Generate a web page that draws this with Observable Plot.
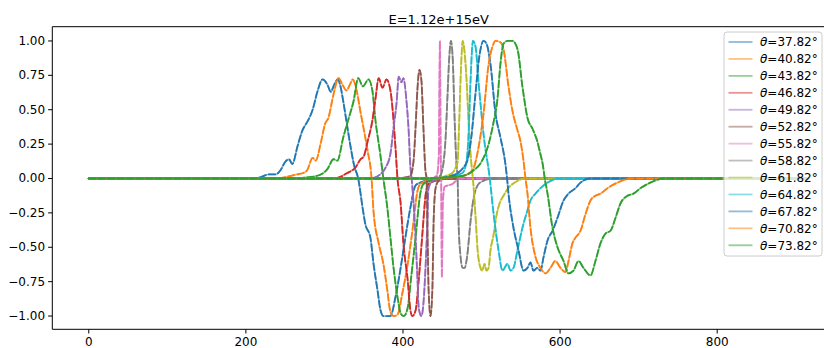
<!DOCTYPE html>
<html><head><meta charset="utf-8">
<script src="https://cdn.jsdelivr.net/npm/d3@7"></script>
<script src="https://cdn.jsdelivr.net/npm/@observablehq/plot@0.6"></script>
<style>body{margin:0;background:#fff;} svg{display:block}</style>
</head><body><div id="chart"></div>
<script>
const title = "E=1.12e+15eV";
const angles = [37.82, 40.82, 43.82, 46.82, 49.82, 52.82, 55.82, 58.82, 61.82, 64.82, 67.82, 70.82, 73.82];
const xTicks = [0, 200, 400, 600, 800];
const yTicks = [-1, -0.75, -0.5, -0.25, 0, 0.25, 0.5, 0.75, 1];
const palette = ["#1f77b4","#ff7f0e","#2ca02c","#d62728","#9467bd","#8c564b","#e377c2","#7f7f7f","#bcbd22","#17becf","#1f77b4","#ff7f0e","#2ca02c"];

const s1 = [[0,0],[206,0],[219,0.01],[229,0.03],[238,0.03],[244,0.06],[250,0.12],[255,0.14],[259,0.105],[266,0.24],[272,0.35],[279,0.42],[285,0.50],[291,0.63],[297.5,0.72],[304,0.68],[308,0.63],[313,0.69],[317,0.72],[320,0.68],[324,0.56],[329,0.38],[333,0.24],[338,0.09],[343,0],[348.5,-0.21],[352,-0.33],[358.5,-0.43],[362.5,-0.62],[367.5,-0.81],[371.5,-0.96],[375,-1.0],[384,-1.0],[390.5,-0.86],[397,-0.65],[403,-0.43],[409.5,-0.21],[416,-0.05],[422,-0.03],[435,-0.01],[450,0],[916,0]];
const s2 = [[0,0],[240,0],[250,0.01],[265,0.03],[273,0.04],[278,0.06],[285,0.15],[289,0.13],[295,0.25],[301,0.40],[305,0.44],[311.5,0.61],[318,0.73],[324,0.67],[328,0.64],[333,0.69],[336,0.72],[341,0.64],[346,0.48],[350,0.36],[355,0.2],[360,0],[362.5,-0.24],[369,-0.47],[375,-0.62],[380,-0.81],[384,-0.97],[388,-1.0],[393,-0.99],[399,-0.84],[406,-0.62],[412,-0.38],[418.5,-0.09],[422,-0.04],[435,-0.01],[450,0],[916,0]];
const s3 = [[0,0],[260,0],[280,0.01],[291,0.02],[304,0.07],[311.5,0.14],[316.5,0.13],[324,0.30],[331,0.44],[337,0.56],[343,0.73],[349,0.67],[356,0.72],[361,0.64],[365,0.42],[371,0.18],[375,0],[380,-0.21],[384,-0.43],[388,-0.65],[393,-0.86],[397,-0.98],[401,-1.0],[406,-0.94],[410,-0.74],[416,-0.43],[422,-0.11],[426,-0.04],[440,-0.01],[455,0],[916,0]];
const s4 = [[0,0],[300,0],[316.5,0.005],[329,0.04],[339.5,0.08],[346,0.14],[350,0.16],[355,0.27],[361,0.42],[365,0.58],[369,0.73],[374,0.66],[379,0.72],[384,0.64],[388,0.42],[390.5,0.22],[393,0],[397,-0.18],[400.5,-0.47],[406,-0.74],[409.5,-0.96],[412,-1.0],[416,-0.96],[420,-0.74],[425,-0.38],[429,-0.11],[432.5,-0.04],[445,-0.01],[460,0],[916,0]];
const s5 = [[0,0],[340,0],[362.5,0.005],[371,0.03],[378,0.08],[384,0.18],[388,0.37],[392,0.56],[394.5,0.74],[398,0.70],[400.5,0.73],[404.5,0.56],[407,0.37],[409.5,0.08],[411,0],[416,-0.43],[418.5,-0.74],[420,-0.94],[423.5,-1.0],[426,-0.91],[428.5,-0.67],[431,-0.33],[432.5,-0.07],[437.5,-0.02],[450,0],[916,0]];
const s6 = [[0,0],[390,0],[405,0.01],[409.5,0.02],[413.5,0.13],[416,0.37],[418.5,0.66],[421,0.79],[423.5,0.71],[426,0.37],[428.5,0.06],[430,0],[431,-0.31],[432.5,-0.79],[435,-1.0],[437.5,-0.79],[439,-0.31],[441.5,-0.07],[445,-0.02],[455,0],[916,0]];
const s7 = [[0,0],[436,0],[443,0.02],[445.5,0.15],[447,1.0],[448,0.2],[448.6,0],[449.5,-0.72],[450.7,-0.18],[453,-0.06],[463,-0.04],[472,0],[916,0]];
const s8 = [[0,0],[430,0],[445,0.01],[449,0.04],[451.5,0.11],[454,0.27],[456.5,0.58],[459,0.89],[461,1.0],[463.5,0.85],[465.5,0.47],[468,0.11],[469.5,0],[470.7,-0.31],[473,-0.55],[476,-0.65],[478.5,-0.65],[482,-0.55],[486,-0.31],[490,-0.14],[495,-0.05],[501,-0.02],[515,0],[916,0]];
const s9 = [[0,0],[440,0],[455,0.02],[463,0.04],[467,0.08],[469.5,0.12],[471.5,0.4],[473.5,0.75],[476,1.0],[478,0.94],[481,0.71],[484,0.35],[487.5,0.08],[489,0],[492.3,-0.27],[495,-0.52],[498.7,-0.65],[501,-0.67],[503.8,-0.62],[506.3,-0.67],[509,-0.65],[511.4,-0.52],[515,-0.42],[519,-0.27],[523,-0.18],[528,-0.125],[534,-0.07],[542,-0.03],[556,0],[916,0]];
const s10 = [[0,0],[440,0],[462,0.02],[475.8,0.04],[481,0.13],[483.4,0.31],[486,0.71],[489,1.0],[492.3,0.96],[496.5,0.68],[503,0.3],[510.5,0],[515,-0.24],[521.6,-0.52],[526.7,-0.67],[533,-0.62],[537,-0.67],[540.7,-0.65],[545.8,-0.52],[552,-0.36],[558.5,-0.23],[562.3,-0.16],[568.7,-0.11],[575,-0.07],[584,-0.03],[597,0],[916,0]];
const s11 = [[0,0],[440,0],[457,0.01],[467,0.03],[477,0.08],[482,0.13],[487,0.3],[492,0.6],[497,0.88],[502.5,1.0],[506.3,0.98],[511.4,0.83],[517.8,0.47],[524,0.3],[530.5,0.1],[532.5,0],[534.3,-0.11],[540.7,-0.36],[547,-0.52],[553.4,-0.67],[558.5,-0.65],[562.3,-0.61],[566,-0.67],[571,-0.65],[575,-0.67],[579,-0.57],[584,-0.45],[590.4,-0.38],[596.7,-0.285],[604.4,-0.16],[610.7,-0.11],[619.6,-0.07],[626,-0.03],[638.7,0],[916,0]];
const s12 = [[0,0],[440,0],[465,0.01],[477,0.02],[488.5,0.06],[496,0.22],[502.5,0.47],[509,0.83],[514,0.96],[517.8,1.0],[524,0.99],[528,0.94],[534.3,0.67],[539.4,0.49],[545.8,0.35],[549.6,0.27],[553.4,0.13],[556,0],[558.5,-0.11],[562.3,-0.36],[568.7,-0.57],[575,-0.65],[581.4,-0.69],[587.8,-0.65],[594,-0.6],[600.5,-0.65],[607,-0.68],[610.7,-0.6],[615.8,-0.47],[619.6,-0.43],[626,-0.38],[632.3,-0.26],[638.7,-0.16],[645,-0.125],[651.5,-0.11],[660.4,-0.07],[673,-0.03],[690,0],[916,0]];
const s13 = [[0,0],[430,0],[460,0.01],[477,0.02],[490,0.06],[498.7,0.11],[509,0.25],[515,0.4],[520.3,0.58],[524,0.83],[528,0.98],[533,1.0],[539.4,1.0],[545.8,0.94],[552,0.67],[558.5,0.44],[565,0.36],[571,0.27],[574,0.2],[578,0.1],[580.5,0],[584,-0.11],[590.4,-0.36],[596.7,-0.5],[604.4,-0.6],[610.7,-0.69],[617,-0.67],[623.4,-0.6],[629.8,-0.65],[638.7,-0.705],[645,-0.6],[651.5,-0.47],[657.8,-0.4],[664.2,-0.38],[670.6,-0.285],[677,-0.18],[685.8,-0.125],[693.5,-0.11],[702.4,-0.07],[715,-0.03],[731.7,0],[916,0]];

const seriesValues = [s1,s2,s3,s4,s5,s6,s7,s8,s9,s10,s11,s12,s13];
const rows = seriesValues.map((pts, i) => pts.map(([x, y]) => ({x, y, angle: angles[i]})));

const lineMarks = [];
rows.forEach((r, i) => {
  lineMarks.push(Plot.line(r, {x: "x", y: "y", stroke: palette[i], strokeOpacity: 0.5, strokeWidth: 1.8, curve: "monotone-x"}));
  lineMarks.push(Plot.line(r, {x: "x", y: "y", stroke: palette[i], strokeWidth: 1.8, strokeDasharray: "6.6,2.9", curve: "monotone-x"}));
});

const plot = Plot.plot({
  width: 824, height: 348,
  marginLeft: 52.3, marginRight: 0, marginTop: 26.7, marginBottom: 18.7,
  style: {fontFamily: "DejaVu Sans", fontSize: "12px", background: "#fff", color: "#000"},
  x: {domain: [-45.8, 936.6]},
  y: {domain: [-1.1, 1.1]},
  marks: [
    ...lineMarks,
    Plot.axisX({ticks: xTicks, tickSize: 4.2, tickPadding: 3, label: null, fontSize: 12}),
    Plot.axisY({ticks: yTicks, tickSize: 4.2, tickPadding: 3.5, tickFormat: d3.format(".2f"), label: null, fontSize: 12}),
    Plot.text([title], {text: d => d, frameAnchor: "top", dy: -12, fontSize: 13})
  ]
});

const svg = d3.select(plot);
const xr = plot.scale("x").range, yr = plot.scale("y").range;
const L = Math.min(...xr), R = Math.max(...xr), T = Math.min(...yr), B = Math.max(...yr);
const sp = svg.append("g").attr("stroke", "#000").attr("stroke-width", 1).attr("fill", "none");
sp.append("line").attr("x1", L).attr("x2", L).attr("y1", T).attr("y2", B);
sp.append("line").attr("x1", L).attr("x2", R).attr("y1", T).attr("y2", T);
sp.append("line").attr("x1", L).attr("x2", R).attr("y1", B).attr("y2", B);

const lg = svg.append("g").attr("font-family", "DejaVu Sans").attr("font-size", 12).attr("text-anchor", "start");
lg.append("rect").attr("x", 724).attr("y", 32).attr("width", 98).attr("height", 224).attr("rx", 3)
  .attr("fill", "#fff").attr("fill-opacity", 0.8).attr("stroke", "#ccc").attr("stroke-width", 1);
angles.forEach((a, i) => {
  const cy = 42 + i * 16.94;
  lg.append("line").attr("x1", 728.5).attr("x2", 752.5).attr("y1", cy).attr("y2", cy)
    .attr("stroke", palette[i]).attr("stroke-opacity", 0.5).attr("stroke-width", 1.8);
  const t = lg.append("text").attr("x", 760).attr("y", cy + 4.3).attr("fill", "#000").attr("text-anchor", "start");
  t.append("tspan").attr("font-style", "italic").text("θ");
  t.append("tspan").text("=" + a.toFixed(2) + "°");
});

document.getElementById("chart").appendChild(plot);
</script>
</body></html>
